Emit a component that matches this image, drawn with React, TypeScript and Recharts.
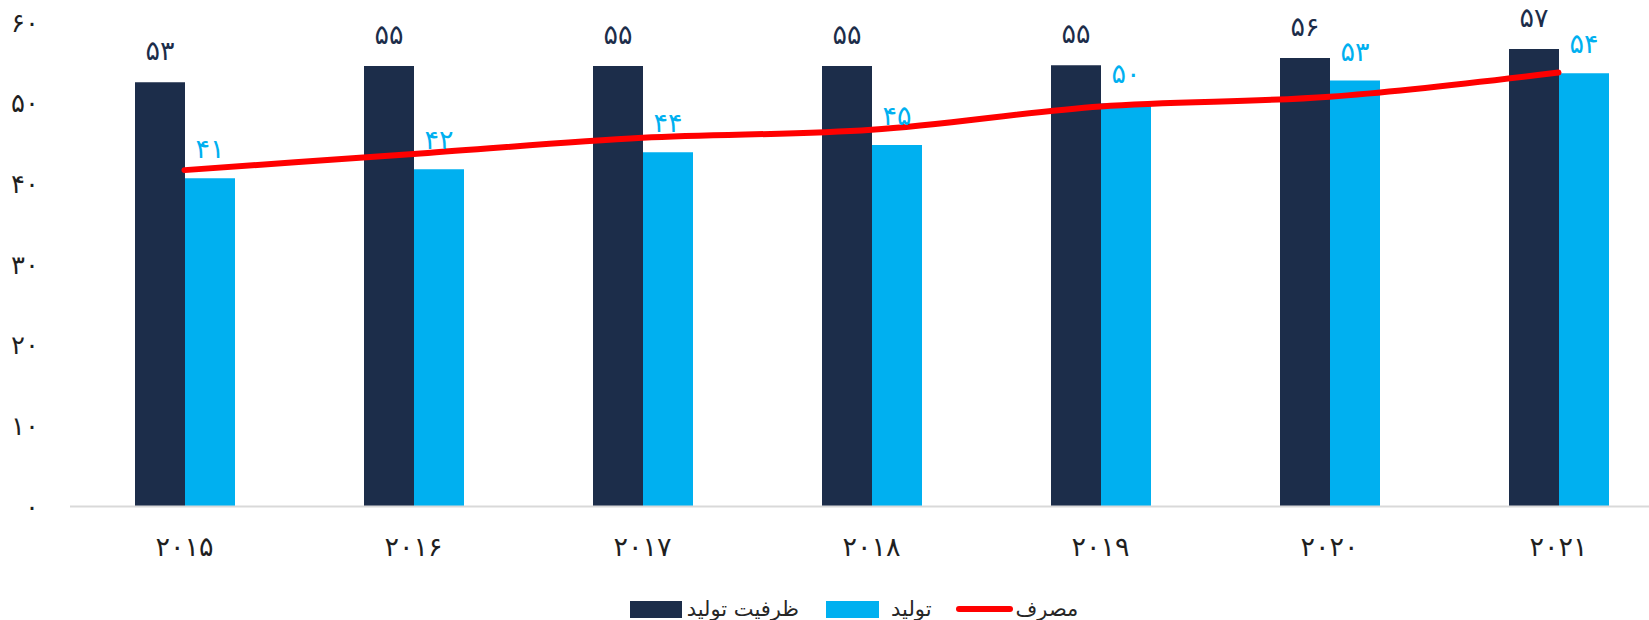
import React from 'react';
import { ComposedChart, Bar, Line, XAxis, YAxis, LabelList, Legend } from 'recharts';

const years = ['2015', '2016', '2017', '2018', '2019', '2020', '2021'];
const capacity = [52.6, 54.6, 54.6, 54.6, 54.7, 55.6, 56.7];
const production = [40.7, 41.8, 43.9, 44.8, 50.0, 52.8, 53.7];
const consumption = [41.7, 43.7, 45.7, 46.7, 49.6, 50.8, 53.8];
const yTicks = [0, 10, 20, 30, 40, 50, 60];
const capacityName = 'ظرفیت تولید';
const productionName = 'تولید';
const consumptionName = 'مصرف';

const data = years.map((y, i) => ({
  year: y,
  capacity: capacity[i],
  production: production[i],
  consumption: consumption[i],
}));

const FA = '۰۱۲۳۴۵۶۷۸۹';
const toFa = (v: number | string) => String(v).replace(/\d/g, (d) => FA[+d]);

const FONT = '"DejaVu Sans", sans-serif';
const DARK = '#1c2d4a';
const LIGHT = '#00b0f0';
const RED = '#ff0000';

const LegendContent = () => (
  <div
    style={{
      display: 'flex',
      justifyContent: 'center',
      alignItems: 'center',
      fontFamily: FONT,
      fontSize: 21,
      color: '#262626',
      height: 26,
    }}
  >
    <div style={{ display: 'flex', alignItems: 'center' }}>
      <span style={{ display: 'inline-block', width: 52, height: 17, background: DARK }} />
      <span style={{ marginLeft: 5 }}>{capacityName}</span>
    </div>
    <div style={{ display: 'flex', alignItems: 'center', marginLeft: 27 }}>
      <span style={{ display: 'inline-block', width: 53, height: 17, background: LIGHT }} />
      <span style={{ marginLeft: 12 }}>{productionName}</span>
    </div>
    <div style={{ display: 'flex', alignItems: 'center', marginLeft: 24 }}>
      <span style={{ display: 'inline-block', width: 57, height: 6, borderRadius: 3, background: RED }} />
      <span style={{ marginLeft: 3 }}>{consumptionName}</span>
    </div>
  </div>
);

export default function App() {
  return (
    <div
      style={{
        position: 'absolute',
        left: 0,
        top: 0,
        width: 1649,
        height: 620,
        overflow: 'hidden',
        background: '#ffffff',
      }}
    >
      <ComposedChart
        width={1673}
        height={620}
        data={data}
        margin={{ top: 22.5, right: 0, left: 0, bottom: 0 }}
        barGap={0}
        style={{ fontFamily: FONT }}
      >
        <XAxis
          dataKey="year"
          height={113.5}
          tickLine={false}
          axisLine={{ stroke: '#d9d9d9', strokeWidth: 2 }}
          tickMargin={24}
          tickFormatter={(v) => toFa(v)}
          tick={{ fill: '#1f1f1f', fontSize: 27, letterSpacing: -2, fontFamily: FONT }}
        />
        <YAxis
          width={70}
          domain={[0, 60]}
          ticks={yTicks}
          axisLine={false}
          tickLine={false}
          tickMargin={25}
          tickFormatter={(v) => toFa(v)}
          tick={{ fill: '#1f1f1f', fontSize: 26, letterSpacing: -1, fontFamily: FONT }}
        />
        <Legend
          layout="horizontal"
          verticalAlign="middle"
          align="center"
          content={<LegendContent />}
          wrapperStyle={{ top: 596, left: 0, width: 1708 }}
        />
        <Bar dataKey="capacity" name={capacityName} fill={DARK} barSize={50} isAnimationActive={false}>
          <LabelList
            dataKey="capacity"
            position="top"
            offset={22}
            formatter={(v: number) => toFa(Math.round(v))}
            style={{ fill: DARK, fontSize: 27, letterSpacing: -1, fontFamily: FONT }}
          />
        </Bar>
        <Bar dataKey="production" name={productionName} fill={LIGHT} barSize={50} isAnimationActive={false}>
          <LabelList
            dataKey="production"
            position="top"
            offset={20}
            formatter={(v: number) => toFa(Math.round(v))}
            style={{ fill: LIGHT, fontSize: 27, letterSpacing: -1, fontFamily: FONT }}
          />
        </Bar>
        <Line
          dataKey="consumption"
          name={consumptionName}
          type="monotone"
          stroke={RED}
          strokeWidth={6}
          strokeLinecap="round"
          dot={false}
          activeDot={false}
          isAnimationActive={false}
        />
      </ComposedChart>
    </div>
  );
}
